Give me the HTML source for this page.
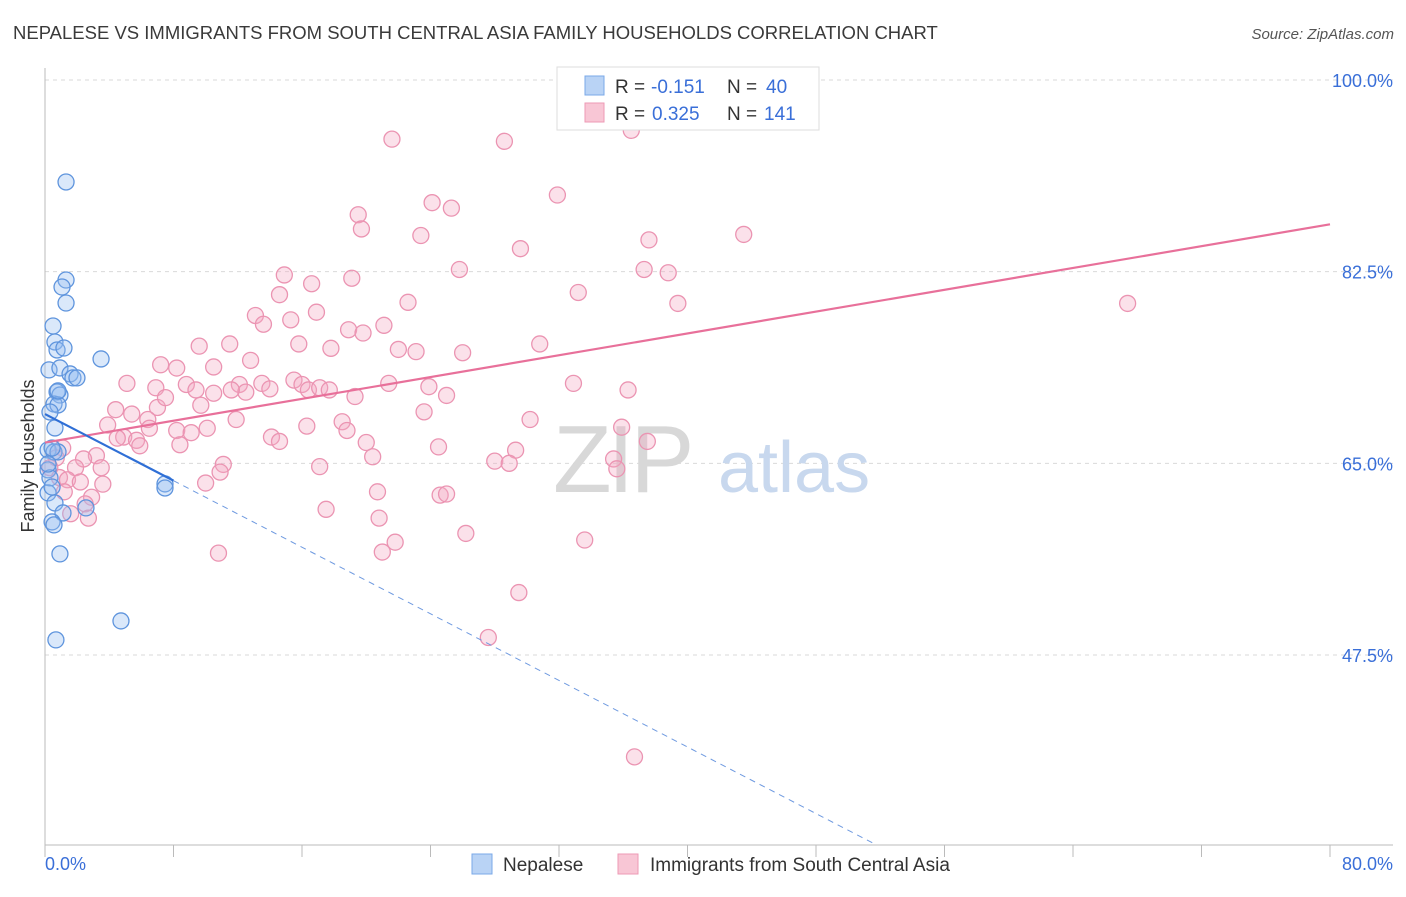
<!DOCTYPE html>
<html><head><meta charset="utf-8"><style>
body{margin:0;background:#fff;font-family:"Liberation Sans",sans-serif;}
svg text{font-family:"Liberation Sans",sans-serif;}
</style></head><body>
<svg id="chart" width="1406" height="892" xmlns="http://www.w3.org/2000/svg">
<text x="13" y="39" font-size="18.5" fill="#3a3a3a">NEPALESE VS IMMIGRANTS FROM SOUTH CENTRAL ASIA FAMILY HOUSEHOLDS CORRELATION CHART</text>
<text x="1394" y="39" font-size="15" fill="#555" text-anchor="end" font-style="italic">Source: ZipAtlas.com</text>
<g id="grid"></g>
<g>
<text x="553" y="492" font-size="96" font-family="Liberation Serif" fill="#d8d8d8" letter-spacing="-4">ZIP</text>
<text x="718" y="492" font-size="72" fill="#c8d8ee">atlas</text>
</g>
<g id="axes"></g>
<g id="marks"></g>
<text transform="translate(34,456) rotate(-90)" font-size="18" fill="#333" text-anchor="middle">Family Households</text>
<g>
<rect x="557" y="67" width="262" height="63" fill="#fff" stroke="#ddd"/>
<rect x="585" y="76" width="19" height="19" fill="#b9d3f5" stroke="#7aa8e8"/>
<rect x="585" y="103" width="19" height="19" fill="#f8c6d5" stroke="#ee9ab5"/>
<text x="615" y="93" font-size="19" fill="#333">R = </text><text x="651" y="93" font-size="19" fill="#3a6fd8">-0.151</text>
<text x="727" y="93" font-size="19" fill="#333">N = </text><text x="766" y="93" font-size="19" fill="#3a6fd8">40</text>
<text x="615" y="120" font-size="19" fill="#333">R = </text><text x="652" y="120" font-size="19" fill="#3a6fd8">0.325</text>
<text x="727" y="120" font-size="19" fill="#333">N = </text><text x="764" y="120" font-size="19" fill="#3a6fd8">141</text>
</g>
<g>
<rect x="472" y="854" width="20" height="20" fill="#b9d3f5" stroke="#7aa8e8"/>
<text x="503" y="871" font-size="19" fill="#333">Nepalese</text>
<rect x="618" y="854" width="20" height="20" fill="#f8c6d5" stroke="#ee9ab5"/>
<text x="650" y="871" font-size="19" fill="#333">Immigrants from South Central Asia</text>
</g>
</svg>
<script>
const yTicks=[100,82.5,65,47.5];
const yTickLabels=["100.0%","82.5%","65.0%","47.5%"];
const xTickCount=[0,8,16,24,32,40,48,56,64,72,80];
const xEndLabels=["0.0%","80.0%"];
const blueX=[1.31,1.31,1.06,1.31,0.50,0.62,0.75,1.18,0.25,0.93,1.56,1.74,1.99,3.49,0.75,0.93,0.56,0.81,0.31,0.62,0.19,0.56,0.81,0.19,0.31,0.19,0.62,2.55,1.12,0.44,0.56,0.93,7.47,7.47,4.73,0.68,0.19,0.44,0.81,0.44];
const blueY=[90.69,81.74,81.10,79.64,77.54,76.08,75.35,75.53,73.53,73.71,73.16,72.8,72.8,74.53,71.52,71.24,70.42,70.33,69.69,68.23,66.22,66.04,66.04,64.4,63.67,62.3,61.38,60.93,60.47,59.65,59.38,56.73,63.12,62.75,50.61,48.88,64.94,62.84,71.61,66.4];
const pinkX=[21.6,28.6,36.5,43.3,41.7,31.9,24.1,25.3,19.5,19.7,23.4,29.6,37.6,43.5,25.8,37.3,38.8,14.9,19.1,16.6,14.6,33.2,22.6,39.4,67.4,13.1,16.9,13.6,15.3,18.9,19.8,21.1,15.8,17.8,22.0,23.1,26.0,30.8,9.6,11.5,12.8,7.2,8.2,10.5,15.5,16.0,5.1,6.9,8.8,9.4,10.5,12.1,12.5,13.5,14.0,16.4,17.1,17.7,19.3,21.4,23.9,25.0,32.9,36.3,4.4,5.4,7.0,7.5,9.7,11.6,11.9,23.6,30.2,18.5,18.8,3.9,6.4,8.2,9.1,10.1,6.5,4.9,5.7,5.9,4.5,14.1,14.6,16.3,20.0,20.4,24.5,29.3,35.9,37.5,8.4,11.1,10.9,3.2,2.4,1.9,3.5,1.1,0.7,0.3,0.9,1.4,2.2,3.6,2.9,1.2,2.5,1.6,2.7,17.1,28.0,28.9,35.4,35.6,10.0,20.7,24.6,25.0,17.5,20.8,26.2,21.8,21.0,10.8,33.6,29.5,27.6,36.7];
const pinkY=[94.6,94.4,95.4,96.7,96.9,89.5,88.8,88.3,87.7,86.4,85.8,84.6,85.4,85.9,82.7,82.7,82.4,82.2,81.9,81.4,80.4,80.6,79.7,79.6,79.6,78.5,78.8,77.7,78.1,77.2,76.9,77.6,75.9,75.5,75.4,75.2,75.1,75.9,75.7,75.9,74.4,74.0,73.7,73.8,72.6,72.2,72.3,71.9,72.2,71.7,71.4,72.2,71.5,72.3,71.8,71.7,71.9,71.7,71.1,72.3,72.0,71.2,72.3,71.7,69.9,69.5,70.1,71.0,70.3,71.7,69.0,69.7,69.0,68.8,68.0,68.5,69.0,68.0,67.8,68.2,68.2,67.4,67.1,66.6,67.3,67.4,67.0,68.4,66.9,65.6,66.5,66.2,68.3,67.0,66.7,64.9,64.2,65.7,65.4,64.6,64.6,66.4,65.5,64.6,63.7,63.5,63.3,63.1,61.9,62.4,61.3,60.4,60.0,64.7,65.2,65.0,65.4,64.5,63.2,62.4,62.1,62.2,60.8,60.0,58.6,57.8,56.9,56.8,58.0,53.2,49.1,38.2];
const blueTrend=[69.5,-0.76];
const pinkTrend=[66.9,0.249];

const NS="http://www.w3.org/2000/svg";
const X0=45,X1=1330,XMAX=80,YTOP=80,YBOT=845;
const xs=v=>X0+(X1-X0)*v/XMAX;
const ys=v=>YTOP+(100-v)*(655-80)/52.5;
const vAt=py=>100-(py-YTOP)*52.5/575;
function mk(tag,attrs,parent){const e=document.createElementNS(NS,tag);for(const k in attrs)e.setAttribute(k,attrs[k]);parent.appendChild(e);return e;}
const grid=document.getElementById('grid'),axes=document.getElementById('axes'),marks=document.getElementById('marks');
yTicks.forEach((t,i)=>{
  const l=mk('line',{x1:X0,x2:1393,y1:ys(t),y2:ys(t),stroke:'#d9d9d9','stroke-dasharray':'4,4'},grid);
  
  
  const tx=mk('text',{x:1393,y:ys(t)+7,'font-size':18,fill:'#3a6fd8','text-anchor':'end'},axes);
  tx.textContent=yTickLabels[i];
  
  
});
const ax=mk('line',{x1:X0,x2:1393,y1:YBOT,y2:YBOT,stroke:'#bbb'},axes);


const ay=mk('line',{x1:X0,x2:X0,y1:68,y2:YBOT,stroke:'#bbb'},axes);


xTickCount.forEach(t=>{
  const l=mk('line',{x1:xs(t),x2:xs(t),y1:YBOT,y2:YBOT+12,stroke:'#bbb'},axes);
  
  
});
const xl0=mk('text',{x:45,y:870,'font-size':18,fill:'#3a6fd8'},axes);xl0.textContent=xEndLabels[0];


const xl1=mk('text',{x:1393,y:870,'font-size':18,fill:'#3a6fd8','text-anchor':'end'},axes);xl1.textContent=xEndLabels[1];



pinkX.forEach((x,i)=>{
  const c=mk('circle',{cx:xs(x),cy:ys(pinkY[i]),r:8,fill:'rgba(244,170,195,0.35)',stroke:'#eb94b2','stroke-width':1.3},marks);
  
  
});
blueX.forEach((x,i)=>{
  const c=mk('circle',{cx:xs(x),cy:ys(blueY[i]),r:8,fill:'rgba(150,190,240,0.35)',stroke:'#5e94dd','stroke-width':1.3},marks);
  
  
});
const pl=mk('line',{x1:xs(0),y1:ys(pinkTrend[0]),x2:xs(80),y2:ys(pinkTrend[0]+80*pinkTrend[1]),stroke:'#e8709a','stroke-width':2.2},marks);


const bSolidEnd=8;
const bl=mk('line',{x1:xs(0),y1:ys(blueTrend[0]),x2:xs(bSolidEnd),y2:ys(blueTrend[0]+bSolidEnd*blueTrend[1]),stroke:'#2f6fd6','stroke-width':2.2},marks);


const bottomV=vAt(YBOT);
const xEnd=(bottomV-blueTrend[0])/blueTrend[1];
const bd=mk('line',{x1:xs(bSolidEnd),y1:ys(blueTrend[0]+bSolidEnd*blueTrend[1]),x2:xs(xEnd),y2:ys(bottomV),stroke:'#6f9ae0','stroke-width':1,'stroke-dasharray':'6,5'},marks);


</script>
</body></html>
